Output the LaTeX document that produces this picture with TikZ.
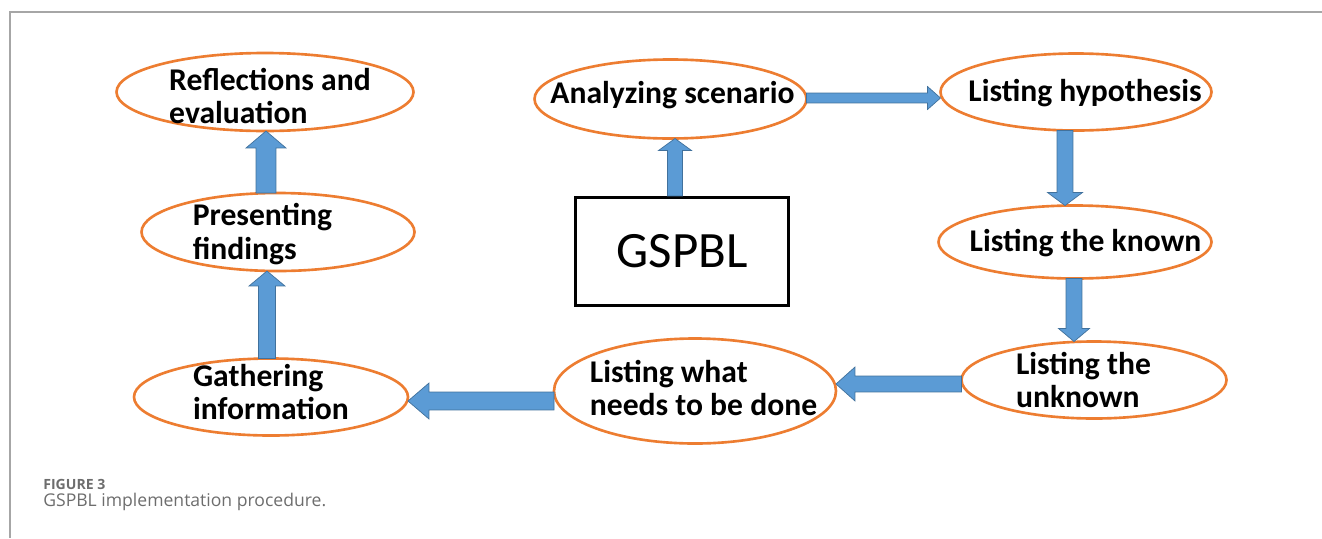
\documentclass[tikz,border=0pt]{standalone}
\usepackage{fontspec}
\setmainfont{Carlito}
\newfontfamily\capfont{Open Sans}
\usetikzlibrary{shapes.geometric,calc}
\begin{document}
\begin{tikzpicture}[x=0.02cm,y=-0.02cm]
\definecolor{orng}{HTML}{ED7D31}
\definecolor{blu}{HTML}{5B9BD5}
\definecolor{bludark}{HTML}{41719C}
\definecolor{framegray}{HTML}{A6A6A6}
\definecolor{capgray}{HTML}{6D6D6D}
\tikzset{stage/.style 2 args = {shape          = ellipse,
                                draw           = orng,
                                fill           = white,
                                line width     = 1.5pt,
                                inner sep      = 0pt,
                                outer sep      = 0pt,
                                minimum width  = #1*0.02cm,
                                minimum height = #2*0.02cm},
         stagetext/.style = {font      = \bfseries\fontsize{18}{19}\selectfont,
                             align     = left,
                             inner sep = 0pt},
         blockarrow/.style n args = {3}{fill = blu, draw = bludark, line width = 0.4pt,
             to path = {let \p1 = (\tikztostart), \p2 = (\tikztotarget),
                            \n1 = {veclen(\x2-\x1,\y2-\y1)},
                            \n2 = {(\x2-\x1)/\n1}, \n3 = {(\y2-\y1)/\n1},
                            \n4 = {#1*0.5669}, \n5 = {#2*0.5669}, \n6 = {#3*0.5669} in
                 ({\x1-\n4*\n3},{\y1+\n4*\n2})
              -- ({\x2-\n6*\n2-\n4*\n3},{\y2-\n6*\n3+\n4*\n2})
              -- ({\x2-\n6*\n2-\n5*\n3},{\y2-\n6*\n3+\n5*\n2})
              -- (\x2,\y2)
              -- ({\x2-\n6*\n2+\n5*\n3},{\y2-\n6*\n3-\n5*\n2})
              -- ({\x2-\n6*\n2+\n4*\n3},{\y2-\n6*\n3-\n4*\n2})
              -- ({\x1+\n4*\n3},{\y1-\n4*\n2}) -- cycle}}}
\useasboundingbox (0,0) rectangle (1322,538);
\draw[framegray, line width=0.6pt] (1322,12) -- (10,12) -- (10,538);
% stages
\node[stage={297}{78}, label={[stagetext, xshift=0.1cm, yshift=-0.08cm]center:Reflections and\\evaluation}] (refl) at (265,92) {};
\node[stage={273}{78}, label={[stagetext, xshift=-0.31cm, yshift=-0.04cm]center:Presenting\\findings}] (pres) at (278,232) {};
\node[stage={274}{77}, label={[stagetext, yshift=0.1cm]center:Gathering\\information}] (gath) at (271,397) {};
\node[stage={272}{79}, label={[stagetext, xshift=0.04cm, yshift=0.08cm]center:Analyzing scenario}] (ana) at (670.5,99) {};
\node[stage={271}{77}, label={[stagetext, xshift=0.18cm, yshift=-0.02cm]center:Listing hypothesis}] (hyp) at (1076,92) {};
\node[stage={273}{73}, label={[stagetext, xshift=0.21cm, yshift=-0.02cm]center:Listing the known}] (known) at (1075,242) {};
\node[stage={265}{77}, label={[stagetext, xshift=-0.21cm]center:Listing the\\unknown}] (unk) at (1094,380) {};
\node[stage={282}{105}, label={[stagetext, xshift=0.17cm, yshift=0.06cm]center:Listing what\\needs to be done}] (what) at (695,391) {};
\node[draw, line width=1.8pt, inner sep=0pt, minimum width=213*0.02cm, minimum height=108*0.02cm,
      font=\fontsize{29}{34}\selectfont] (gspbl) at (682,251.5) {GSPBL};
% arrows
\path[blockarrow={7.5}{16.5}{12}] ([xshift=-0.14cm]gspbl.north) to ([xshift=0.09cm]ana.south);
\path[blockarrow={5}{11.5}{13}] ([yshift=0.02cm]ana.east) to ([yshift=-0.12cm]hyp.west);
\path[blockarrow={8}{17.5}{13}] ([xshift=-0.22cm]hyp.south) to ([xshift=-0.2cm]known.north);
\path[blockarrow={8}{15.5}{13}] ([xshift=-0.02cm]known.south) to ([xshift=-0.4cm]unk.north);
\path[blockarrow={8}{17}{19}] ([yshift=-0.08cm]unk.west) to ([yshift=0.14cm]what.east);
\path[blockarrow={9}{18}{21}] ([yshift=-0.2cm]what.west) to ([yshift=-0.08cm]gath.east);
\path[blockarrow={8.5}{18}{15}] ([xshift=-0.08cm]gath.north) to ([xshift=-0.22cm]pres.south);
\path[blockarrow={10}{20}{17}] ([xshift=-0.24cm]pres.north) to ([xshift=0.02cm]refl.south);
% caption
\node[anchor=base west, inner sep=0pt, text=capgray, font=\capfont\bfseries\fontsize{8}{10}\selectfont] (fignum) at (43,489) {FIGURE 3};
\node[anchor=base west, inner sep=0pt, text=capgray, font=\capfont\fontsize{10}{12}\selectfont] (figcap) at (43,506) {GSPBL implementation procedure.};
\end{tikzpicture}
\end{document}
